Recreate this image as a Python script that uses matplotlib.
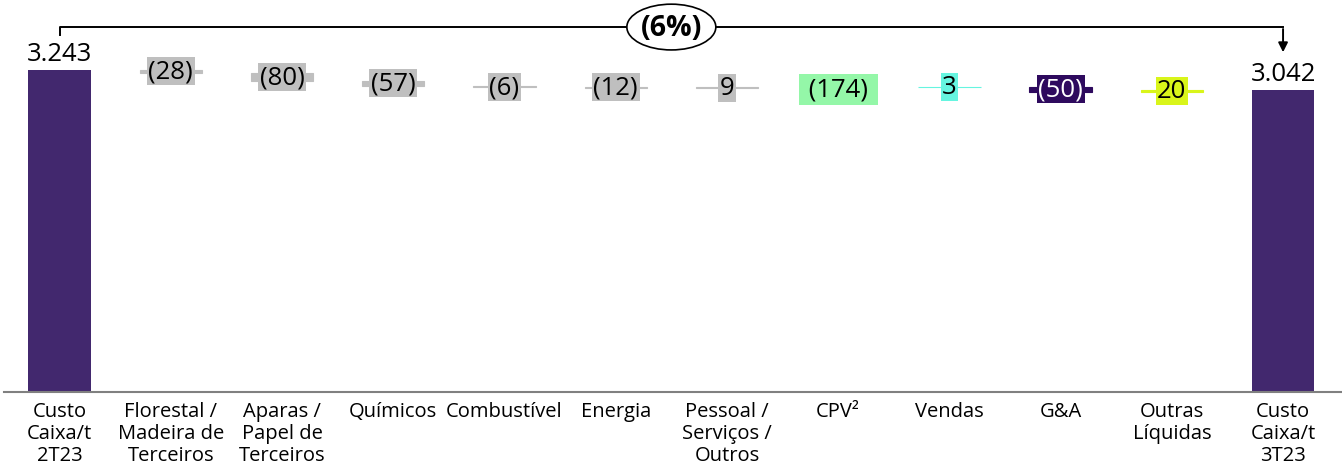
import matplotlib.pyplot as plt
from matplotlib.patches import Ellipse

plt.rcParams['font.family'] = ['Open Sans', 'DejaVu Sans']

categories = ['Custo\nCaixa/t\n2T23', 'Florestal /\nMadeira de\nTerceiros', 'Aparas /\nPapel de\nTerceiros',
              'Químicos', 'Combustível', 'Energia', 'Pessoal /\nServiços /\nOutros', 'CPV²',
              'Vendas', 'G&A', 'Outras\nLíquidas', 'Custo\nCaixa/t\n3T23']
start_value = 3243
end_value = 3042
cpv_items = [-28, -80, -57, -6, -12, 9]
other_items = [3, -50, 20]

total_color = '#42286e'
grey = '#bfbfbf'
item_colors = [grey] * 6 + ['#94f7a8', '#66f5e0', '#2e0a5e', '#d9f51a']
text_colors = ['black'] * 8 + ['white', 'black']


def fmt(v):
    s = f'{abs(v):,}'.replace(',', '.')
    return f'({s})' if v < 0 else s


fig = plt.figure(figsize=(13.42, 4.64), dpi=100)
ax = fig.add_axes([0.003, 0.152, 0.997, 0.848])
ax.set_xlim(-0.5, 11.53)
ax.set_ylim(0, 3955)
w = 0.56

# totals
ax.bar(0, start_value, width=w, color=total_color)
ax.bar(11, end_value, width=w, color=total_color)
for x, v in [(0, start_value), (11, end_value)]:
    ax.text(x, v + 40, fmt(v), ha='center', va='bottom', fontsize=18.5)

# floating steps: CPV items, then CPV subtotal, then the rest
level = start_value
steps = []
for v in cpv_items:
    steps.append((level, v))
    level += v
cpv_total = sum(cpv_items)
steps.append((start_value, cpv_total))
for v in other_items:
    steps.append((level, v))
    level += v

for i, ((base, v), c, tc) in enumerate(zip(steps, item_colors, text_colors)):
    x = i + 1
    if i == 6:
        # subtotal bar sits behind its label box
        ax.bar(x, v + 40, bottom=base - 40, width=w, color=c)
        ax.text(x, base + v - 22, ' ' + fmt(v) + ' ', ha='center', va='center', fontsize=18.5, color=tc,
                bbox=dict(boxstyle='square,pad=0.12', fc=c, ec='none'), zorder=4)
    else:
        ax.bar(x, v, bottom=base, width=w, color=c, edgecolor=c, linewidth=0.8)
        ax.text(x, base + v / 2, fmt(v), ha='center', va='center', fontsize=18.5, color=tc,
                bbox=dict(boxstyle='square,pad=0.06', fc=c, ec='none'))

# change bracket
by = 3673
ax.plot([0, 0, 11], [3593, by, by], color='black', lw=1.4, clip_on=False)
ax.annotate('', xy=(11, 3392), xytext=(11, by + 8),
            arrowprops=dict(arrowstyle='-|>', color='black', lw=1.4, mutation_scale=14),
            annotation_clip=False)
pct = round((end_value / start_value - 1) * 100)
ax.add_patch(Ellipse((5.5, by), 0.8, 460, fc='white', ec='black', lw=1.2, clip_on=False, zorder=5))
ax.text(5.5, by, fmt(pct).replace(')', '%)'), ha='center', va='center', fontsize=20.5,
        fontweight='bold', zorder=6)

ax.set_xticks(range(len(categories)))
ax.set_xticklabels(categories, fontsize=14.5, linespacing=1.13)
ax.tick_params(axis='x', length=0, pad=6)
ax.set_yticks([])
for s in ['top', 'right', 'left']:
    ax.spines[s].set_visible(False)
ax.spines['bottom'].set_color('#808080')
ax.spines['bottom'].set_linewidth(1.5)

fig.savefig('out.png', dpi=100)
